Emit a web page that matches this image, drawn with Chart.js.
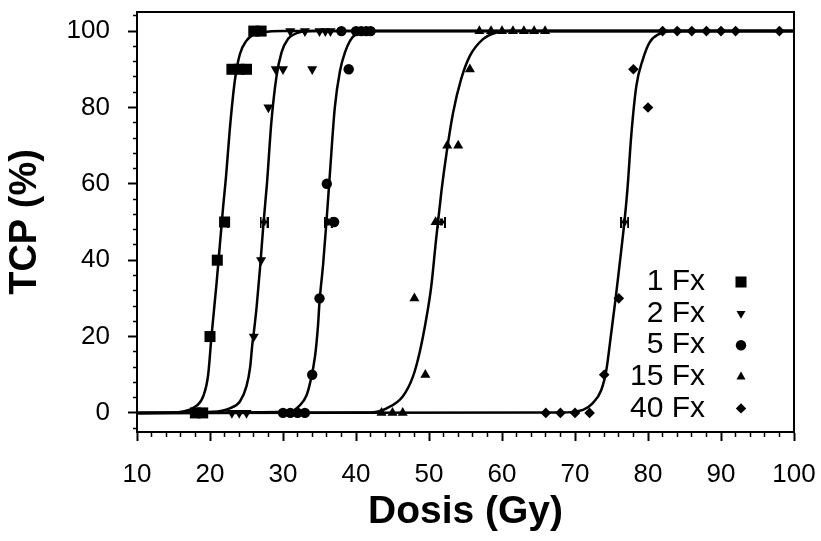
<!DOCTYPE html>
<html>
<head>
<meta charset="utf-8">
<script src="https://cdn.jsdelivr.net/npm/chart.js@4/dist/chart.umd.min.js"></script>
<style>
  html, body { margin: 0; padding: 0; background: #fff; }
  #wrap { width: 821px; height: 541px; }
</style>
</head>
<body>
<div id="wrap"><canvas id="c" width="821" height="541"></canvas></div>
<script>
// ---------- data ----------
const seriesLabels = ['1 Fx', '2 Fx', '5 Fx', '15 Fx', '40 Fx'];
const xTickLabels = [10, 20, 30, 40, 50, 60, 70, 80, 90, 100];
const yTickLabels = [0, 20, 40, 60, 80, 100];

// measured points (dose in Gy, TCP in %)
const fx1Dose = [18, 19, 20, 21, 22, 23, 24, 25, 26, 27];
const fx1Tcp  = [0, 0, 20, 40, 50, 90, 90, 90, 100, 100];

const fx2Dose = [23, 24, 25, 26, 27, 28, 29, 30, 34, 31, 33, 35, 35.8, 36.5];
const fx2Tcp  = [0, 0, 0, 20, 40, 80, 90, 90, 90, 100, 100, 100, 100, 100];

const fx5Dose = [30, 31, 32, 33, 34, 35, 37, 36, 39, 38, 40, 40.7, 41.4, 42];
const fx5Tcp  = [0, 0, 0, 0, 10, 30, 50, 60, 90, 100, 100, 100, 100, 100];

const fx15Dose = [43.5, 45, 46.4, 49.5, 48, 50.9, 52.5, 54, 55.6, 56.9, 58.5, 60, 61.5, 63, 64.4, 65.9];
const fx15Tcp  = [0, 0, 0, 10, 30, 50, 70, 70, 90, 100, 100, 100, 100, 100, 100, 100];

const fx40Dose = [66, 68, 70, 72, 74, 76, 80, 78, 82, 84, 86, 88, 90, 92, 98];
const fx40Tcp  = [0, 0, 0, 0, 10, 30, 80, 90, 100, 100, 100, 100, 100, 100, 100];

// D50 markers (with horizontal bars)
const d50Dose = [22, 27.4, 36.2, 51.7, 76.8];
const d50Tcp  = [50, 50, 50, 50, 50];

// fitted curves, points
const fit1Dose = [10, 15, 16.3, 17.7, 19.1, 19.75, 20.2, 20.9, 21.35, 21.8, 22.2, 22.7, 23.4, 24.1, 25, 25.9, 27.3, 30, 100];
const fit1Tcp  = [0, 0.1, 0.4, 1.3, 4.5, 10, 20, 34, 44, 54, 62, 74, 87, 94, 97.5, 99, 99.7, 100, 100];

const fit2Dose = [10, 20.4, 22.7, 24.1, 25, 25.5, 25.8, 26, 26.4, 26.9, 27.3, 27.8, 28.4, 29.1, 29.8, 30.7, 31.8, 34, 100];
const fit2Tcp  = [0, 0.3, 1.2, 3, 7, 12, 18, 21, 28, 39, 49, 60, 76, 88, 94.4, 98, 99.4, 100, 100];

const fit5Dose = [10, 30.9, 32.3, 33.2, 33.7, 34.4, 34.8, 35.0, 35.5, 35.95, 36.4, 37.1, 37.8, 38.5, 39.2, 40, 42, 100];
const fit5Tcp  = [0, 0.3, 2, 4.5, 7.8, 15, 23, 29, 39, 50, 62, 80, 89.5, 94.5, 97.5, 99.2, 100, 100];

const fit15Dose = [10, 41.9, 44.2, 46.4, 47.8, 48.7, 49.6, 50.3, 51, 51.7, 52.4, 53.3, 54.4, 55.6, 57.4, 59.2, 61, 100];
const fit15Tcp  = [0, 0.1, 1.2, 4.3, 9.5, 15.7, 24.4, 33, 46, 58, 68, 78.6, 87.4, 93.5, 97.9, 99.6, 100, 100];

const fit40Dose = [10, 68, 71.1, 72.4, 73.6, 74.3, 74.9, 75.6, 76.3, 76.8, 77.2, 77.7, 78.4, 79.3, 80.2, 81.5, 83.4, 100];
const fit40Tcp  = [0, 0.1, 0.8, 2.5, 6, 11.3, 20, 30.5, 42, 50.6, 59, 72.5, 85.6, 92.6, 97, 99.2, 100, 100];

// ---------- build chart ----------
function pts(xs, ys) { return xs.map((x, i) => ({ x: x, y: ys[i] })); }

function makeBarMarker() {
  const c = document.createElement('canvas');
  c.width = 9; c.height = 11;
  const g = c.getContext('2d');
  g.fillStyle = '#000';
  g.fillRect(0, 0, 2, 11);
  g.fillRect(7, 0, 2, 11);
  g.fillRect(0, 4, 9, 3);
  g.fillRect(3, 2, 3, 7);
  return c;
}

const FONT = '"Liberation Sans", Arial, Helvetica, sans-serif';
Chart.defaults.font.family = FONT;
Chart.defaults.color = '#000';

const markerStyles = [
  { pointStyle: 'rect', radius: 7.8, rotation: 0, legendRadius: 7.8 },
  { pointStyle: 'triangle', radius: 5.8, rotation: 180, legendRadius: 5.2 },
  { pointStyle: 'circle', radius: 5.2, rotation: 0, legendRadius: 5.2 },
  { pointStyle: 'triangle', radius: 5.8, rotation: 0, legendRadius: 5.2 },
  { pointStyle: 'rectRot', radius: 5.3, rotation: 0, legendRadius: 5.2 }
];

const markerData = [
  pts(fx1Dose, fx1Tcp), pts(fx2Dose, fx2Tcp), pts(fx5Dose, fx5Tcp),
  pts(fx15Dose, fx15Tcp), pts(fx40Dose, fx40Tcp)
];
const curveData = [
  pts(fit1Dose, fit1Tcp), pts(fit2Dose, fit2Tcp), pts(fit5Dose, fit5Tcp),
  pts(fit15Dose, fit15Tcp), pts(fit40Dose, fit40Tcp)
];

const datasets = [];
seriesLabels.forEach((lab, i) => {
  datasets.push({
    label: lab,
    data: markerData[i],
    showLine: false,
    pointStyle: markerStyles[i].pointStyle,
    pointRadius: markerStyles[i].radius,
    pointRotation: markerStyles[i].rotation,
    pointBackgroundColor: '#000',
    pointBorderColor: '#000',
    pointBorderWidth: 0,
    clip: false
  });
});
datasets.push({
  label: 'D50',
  data: pts(d50Dose, d50Tcp),
  showLine: false,
  pointStyle: makeBarMarker(),
  pointRadius: 5,
  clip: false
});
seriesLabels.forEach((lab, i) => {
  datasets.push({
    label: lab + ' fit',
    data: curveData[i],
    showLine: true,
    pointRadius: 0,
    borderColor: '#000',
    borderWidth: 2.5,
    cubicInterpolationMode: 'monotone',
    fill: false
  });
});

const overlayPlugin = {
  id: 'overlayFrameLegend',
  afterDatasetsDraw(chart) {
    const a = chart.chartArea, ctx = chart.ctx;
    ctx.save();
    // frame (top and right edges)
    ctx.strokeStyle = '#000';
    ctx.lineWidth = 2;
    ctx.beginPath();
    ctx.moveTo(a.left, a.top);
    ctx.lineTo(a.right, a.top);
    ctx.lineTo(a.right, a.bottom);
    ctx.stroke();
    // legend: text on the left, marker on the right
    ctx.font = '30px ' + FONT;
    ctx.fillStyle = '#000';
    ctx.textAlign = 'right';
    ctx.textBaseline = 'middle';
    seriesLabels.forEach((lab, i) => {
      const y = a.bottom - 150 + i * 31.6;
      ctx.fillText(lab, a.right - 89, y);
      Chart.helpers.drawPoint(ctx, {
        pointStyle: markerStyles[i].pointStyle,
        radius: markerStyles[i].legendRadius,
        rotation: markerStyles[i].rotation,
        borderWidth: 0
      }, a.right - 53, y);
    });
    ctx.restore();
  }
};

new Chart(document.getElementById('c'), {
  type: 'scatter',
  data: { datasets: datasets },
  plugins: [overlayPlugin],
  options: {
    responsive: false,
    animation: false,
    events: [],
    layout: { padding: { top: 12, right: 27, left: 0, bottom: 0 } },
    plugins: { legend: { display: false }, tooltip: { enabled: false } },
    scales: {
      x: {
        type: 'linear',
        min: 10, max: 100,
        afterFit(s) { s.height = 109; s.paddingLeft = 0; s.paddingRight = 0; },
        border: { display: true, color: '#000', width: 2 },
        grid: {
          drawOnChartArea: false,
          drawTicks: true,
          tickLength: 9,
          tickColor: '#000',
          tickWidth: (c) => (xTickLabels.includes(c.tick.value) ? 2 : 1.5),
          tickBorderDash: (c) => (xTickLabels.includes(c.tick.value) ? [] : [4, 100])
        },
        ticks: {
          stepSize: 2,
          autoSkip: false,
          maxRotation: 0,
          padding: 18,
          color: '#000',
          font: { size: 26 },
          callback: (v) => (xTickLabels.includes(v) ? String(v) : '')
        },
        title: {
          display: true,
          text: 'Dosis (Gy)',
          color: '#000',
          font: { size: 39, weight: 'bold' },
          padding: { top: 0, bottom: 5 }
        }
      },
      y: {
        type: 'linear',
        min: -5, max: 105,
        afterFit(s) { s.width = 137; s.paddingTop = 0; s.paddingBottom = 0; },
        border: { display: true, color: '#000', width: 2 },
        grid: {
          drawOnChartArea: false,
          drawTicks: true,
          tickLength: 9,
          tickColor: '#000',
          tickWidth: (c) => (yTickLabels.includes(c.tick.value) ? 2 : 1.5),
          tickBorderDash: (c) => (yTickLabels.includes(c.tick.value) ? [] : [0, 5, 4, 100])
        },
        ticks: {
          stepSize: 4,
          includeBounds: false,
          autoSkip: false,
          padding: 18,
          color: '#000',
          font: { size: 26 },
          callback: (v) => (yTickLabels.includes(v) ? String(v) : '')
        },
        title: {
          display: true,
          text: 'TCP (%)',
          color: '#000',
          font: { size: 38, weight: 'bold' },
          padding: { top: 3, bottom: 0 }
        }
      }
    }
  }
});
</script>
</body>
</html>
